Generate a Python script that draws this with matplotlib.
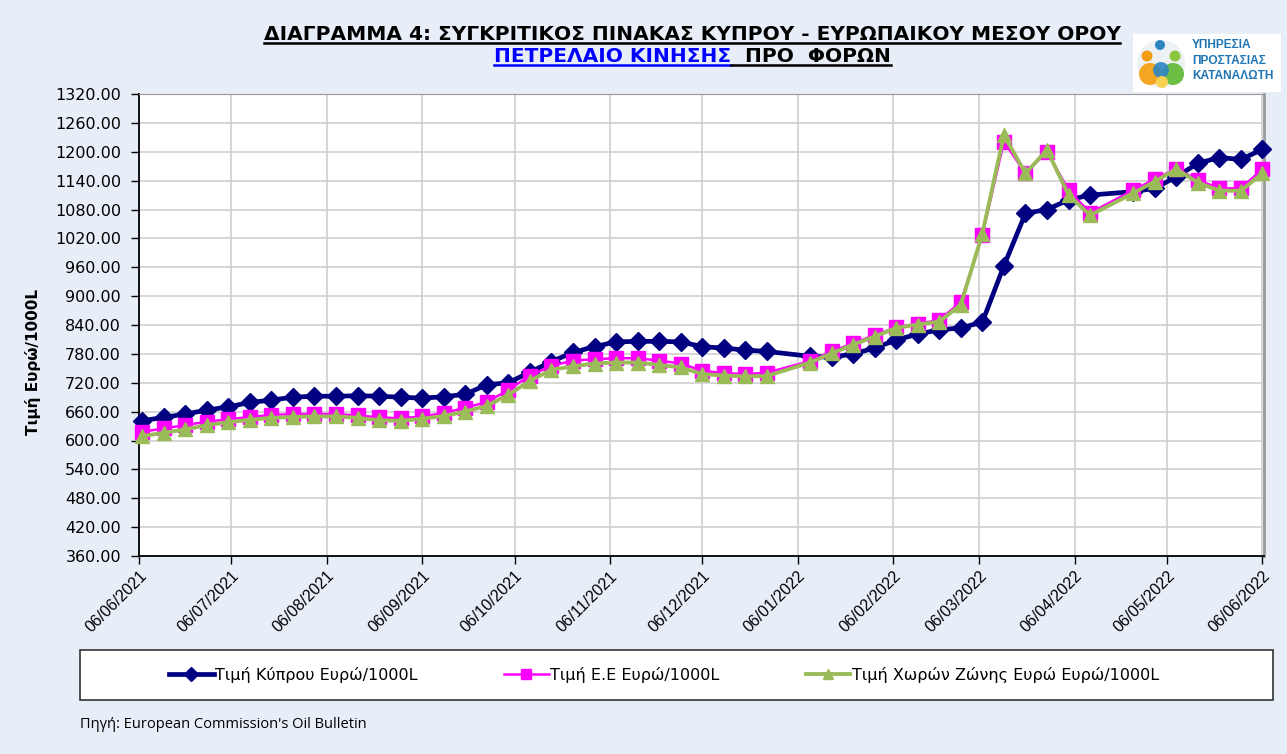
import datetime as dt
import matplotlib
matplotlib.use("Agg")
import matplotlib.pyplot as plt
import matplotlib.dates as mdates
from matplotlib.patches import Rectangle, Ellipse
from matplotlib.lines import Line2D

# weekly Oil Bulletin dates (03/01 and 18/04 missing)
DATES = [
    "2021-06-07", "2021-06-14", "2021-06-21", "2021-06-28", "2021-07-05",
    "2021-07-12", "2021-07-19", "2021-07-26", "2021-08-02", "2021-08-09",
    "2021-08-16", "2021-08-23", "2021-08-30", "2021-09-06", "2021-09-13",
    "2021-09-20", "2021-09-27", "2021-10-04", "2021-10-11", "2021-10-18",
    "2021-10-25", "2021-11-01", "2021-11-08", "2021-11-15", "2021-11-22",
    "2021-11-29", "2021-12-06", "2021-12-13", "2021-12-20", "2021-12-27",
    "2022-01-10", "2022-01-17", "2022-01-24", "2022-01-31", "2022-02-07",
    "2022-02-14", "2022-02-21", "2022-02-28", "2022-03-07", "2022-03-14",
    "2022-03-21", "2022-03-28", "2022-04-04", "2022-04-11", "2022-04-25",
    "2022-05-02", "2022-05-09", "2022-05-16", "2022-05-23", "2022-05-30",
    "2022-06-06",
]

CYPRUS = [
    641, 648, 655, 663, 670, 679, 684, 690, 692, 692,
    693, 692, 690, 688, 691, 696, 716, 720, 742, 764,
    783, 795, 805, 806, 806, 805, 795, 792, 788, 785,
    775, 773, 780, 792, 809, 821, 830, 834, 846, 963,
    1072, 1080, 1100, 1110, 1117, 1124, 1148, 1176, 1188, 1184,
    1205,
]

EU = [
    618, 625, 632, 639, 644, 649, 653, 655, 655, 655,
    652, 648, 646, 650, 657, 668, 680, 705, 735, 755,
    766, 769, 771, 771, 766, 760, 745, 740, 738, 741,
    765, 785, 802, 819, 835, 843, 850, 888, 1027, 1221,
    1155, 1200, 1120, 1073, 1120, 1143, 1165, 1141, 1124, 1124,
    1164,
]

EURO_AREA = [
    609, 616, 623, 632, 638, 643, 647, 649, 650, 650,
    647, 642, 641, 645, 651, 660, 672, 695, 724, 747,
    754, 760, 762, 762, 757, 752, 738, 735, 733, 734,
    762, 781, 799, 816, 834, 841, 847, 882, 1030, 1235,
    1155, 1204, 1110, 1068, 1114, 1138, 1164, 1136, 1119, 1119,
    1155,
]

TICK_DATES = [
    "2021-06-06", "2021-07-06", "2021-08-06", "2021-09-06", "2021-10-06",
    "2021-11-06", "2021-12-06", "2022-01-06", "2022-02-06", "2022-03-06",
    "2022-04-06", "2022-05-06", "2022-06-06",
]

LABELS = [
    "Τιμή Κύπρου Ευρώ/1000L",
    "Τιμή Ε.Ε Ευρώ/1000L",
    "Τιμή Χωρών Ζώνης Ευρώ Ευρώ/1000L",
]

BG = "#E8EEF7"
W, H = 1287, 754


def to_date(s):
    return dt.datetime.strptime(s, "%Y-%m-%d")


def underline(fig, txt, color, gap=3, lw=1.8):
    r = fig.canvas.get_renderer()
    bb = txt.get_window_extent(renderer=r)
    _, ybase = txt.get_transform().transform(txt.get_position())
    y = (ybase - gap) / H
    fig.add_artist(Line2D([bb.x0 / W, bb.x1 / W], [y, y], transform=fig.transFigure,
                          color=color, lw=lw))


def dot(fig, cx, cy, r, col, alpha=1.0):
    # circle given in pixel units of the figure
    fig.patches.append(Ellipse((cx / W, 1 - cy / H), 2 * r / W, 2 * r / H,
                               transform=fig.transFigure, facecolor=col,
                               edgecolor="none", zorder=2, alpha=alpha))


def main():
    plt.rcParams["font.family"] = ["DejaVu Sans"]
    fig = plt.figure(figsize=(W / 100, H / 100), dpi=100, facecolor=BG)
    ax = fig.add_axes([139 / W, 1 - 556 / H, (1264 - 139) / W, (556 - 94) / H])
    ax.set_facecolor("white")

    x = [to_date(d) for d in DATES]
    ax.plot(x, CYPRUS, color="#000080", lw=3.4, marker="D", ms=9.5,
            label=LABELS[0], zorder=3, clip_on=False)
    ax.plot(x, EU, color="#FF00FF", lw=1.8, marker="s", ms=10.5,
            label=LABELS[1], zorder=4, clip_on=False)
    ax.plot(x, EURO_AREA, color="#9BBB59", lw=2.8, marker="^", ms=10,
            label=LABELS[2], zorder=5, clip_on=False)

    ticks = [to_date(d) for d in TICK_DATES]
    ax.set_xlim(ticks[0], ticks[-1] + dt.timedelta(hours=12))
    ax.set_xticks(ticks)
    ax.xaxis.set_major_formatter(mdates.DateFormatter("%d/%m/%Y"))
    ax.set_ylim(360, 1320)
    ax.set_yticks(range(360, 1321, 60))
    ax.yaxis.set_major_formatter(plt.FuncFormatter(lambda v, p: f"{v:.2f}"))
    ax.tick_params(axis="both", direction="out", length=6, width=1,
                   color="black")
    ax.tick_params(axis="x", labelsize=11.5, pad=3)
    ax.tick_params(axis="y", labelsize=11.5, pad=7)
    for lab in ax.get_xticklabels():
        lab.set_rotation(45)
        lab.set_ha("right")
        lab.set_va("top")
        lab.set_rotation_mode("anchor")
        lab.set_family("Liberation Sans")
    ax.grid(True, color="#CFCFCF", lw=1.2)
    ax.set_axisbelow(True)
    for side in ("left", "bottom"):
        ax.spines[side].set_color("black")
        ax.spines[side].set_linewidth(1.3)
    ax.spines["top"].set_color("#9A9A9A")
    ax.spines["right"].set_color("#9A9A9A")
    ax.spines["right"].set_linewidth(2)

    fig.text(33 / W, 1 - 362 / H, "Τιμή Ευρώ/1000L", rotation=90, ha="center",
             va="center", fontsize=11, fontweight="bold")

    # title
    t1 = fig.text(692 / W, 1 - 40 / H,
                  "ΔΙΑΓΡΑΜΜΑ 4: ΣΥΓΚΡΙΤΙΚΟΣ ΠΙΝΑΚΑΣ ΚΥΠΡΟΥ - ΕΥΡΩΠΑΙΚΟΥ ΜΕΣΟΥ ΟΡΟΥ",
                  ha="center", va="baseline", fontsize=14.5, fontweight="bold")
    t2 = fig.text(731 / W, 1 - 62 / H, "ΠΕΤΡΕΛΑΙΟ ΚΙΝΗΣΗΣ", ha="right",
                  va="baseline", fontsize=14.5, fontweight="bold", color="#0000FF")
    t3 = fig.text(731 / W, 1 - 62 / H, "  ΠΡΟ  ΦΟΡΩΝ", ha="left",
                  va="baseline", fontsize=14.5, fontweight="bold", color="black")

    # logo box
    fig.patches.append(Rectangle((1133 / W, 1 - 92 / H), 148 / W, 58 / H,
                                 transform=fig.transFigure, facecolor="white",
                                 edgecolor="none", zorder=1))
    dot(fig, 1161, 64, 24, "#EEF1F4")
    dot(fig, 1160, 45, 5, "#2E86C1")
    dot(fig, 1147, 56, 5.5, "#F39C12")
    dot(fig, 1175, 56, 5.5, "#8CC63F")
    dot(fig, 1150, 74, 11, "#F5A623")
    dot(fig, 1173, 74, 11, "#6DBE45")
    dot(fig, 1161, 70, 8, "#2E86C1", 0.9)
    dot(fig, 1162, 82, 6, "#F7D154")
    for i, word in enumerate(["ΥΠΗΡΕΣΙΑ", "ΠΡΟΣΤΑΣΙΑΣ", "ΚΑΤΑΝΑΛΩΤΗ"]):
        fig.text(1192 / W, 1 - (45 + 15.5 * i) / H, word, ha="left", va="center",
                 fontsize=8.6, fontweight="bold", color="#1F74B5",
                 family="Liberation Sans")

    # legend box
    fig.patches.append(Rectangle((80 / W, 1 - 700 / H), 1193 / W, 50 / H,
                                 transform=fig.transFigure, facecolor="white",
                                 edgecolor="#333333", lw=1.2, zorder=1))
    fig.legend(loc="center", bbox_to_anchor=(664 / W, 1 - 675 / H), ncol=3,
               frameon=False, fontsize=11.5, handlelength=2.8,
               handletextpad=0.1, columnspacing=5.4, markerscale=0.7)

    fig.text(80 / W, 1 - 724 / H, "Πηγή: European Commission's Oil Bulletin",
             ha="left", va="center", fontsize=10.5, family="Open Sans")

    fig.canvas.draw()
    underline(fig, t1, "black")
    underline(fig, t2, "#0000FF")
    underline(fig, t3, "black")

    fig.savefig("out.png", dpi=100, facecolor=BG)


if __name__ == "__main__":
    main()
